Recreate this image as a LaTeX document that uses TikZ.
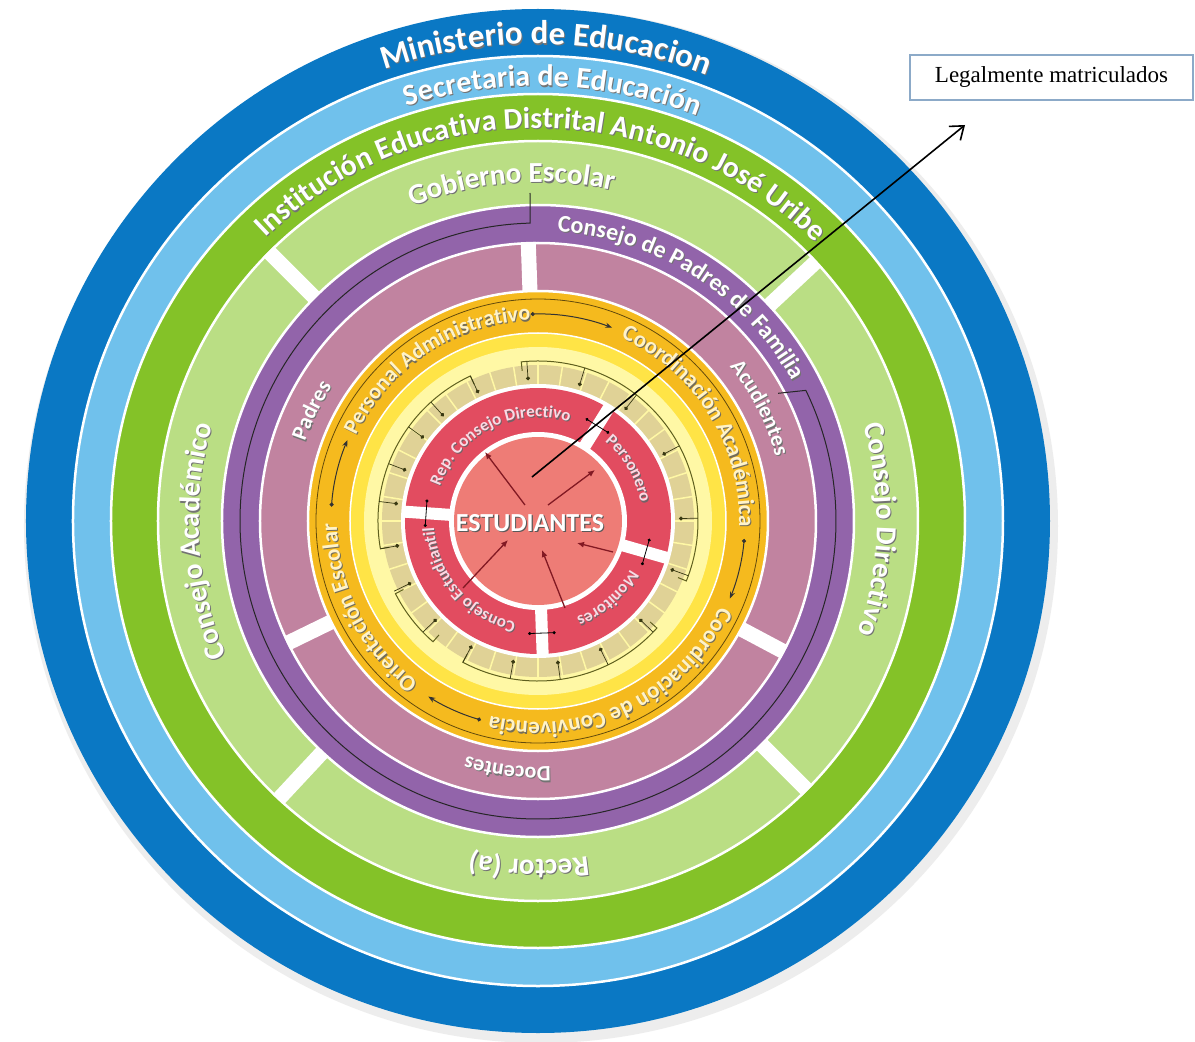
\documentclass[tikz,border=0pt]{standalone}
\usepackage{fontspec}
\setmainfont{Liberation Serif}
\newfontfamily\ringfont{Carlito}
\usetikzlibrary{decorations.text,arrows.meta}

\definecolor{ministerio}{RGB}{10,120,196}
\definecolor{secretaria}{RGB}{112,193,236}
\definecolor{institucion}{RGB}{132,194,40}
\definecolor{gobierno}{RGB}{186,222,132}
\definecolor{padresfam}{RGB}{146,100,170}
\definecolor{familia}{RGB}{193,131,160}
\definecolor{personal}{RGB}{245,186,30}
\definecolor{amarillo}{RGB}{255,228,70}
\definecolor{crema}{RGB}{255,248,165}
\definecolor{celda}{RGB}{224,210,150}
\definecolor{rojo}{RGB}{226,76,96}
\definecolor{salmon}{RGB}{238,124,118}
\definecolor{vino}{RGB}{130,25,35}
\definecolor{oliva}{RGB}{95,95,30}
\definecolor{rosado}{RGB}{250,218,228}
\definecolor{marfil}{RGB}{255,243,200}
\definecolor{borde}{RGB}{140,170,200}

\begin{document}
\begin{tikzpicture}[x=1pt,y=1pt,
	sep/.style={draw=white,line width=2.5pt},
	cut/.style={white,line width=15pt},
	bracket/.style={draw=oliva,line width=1pt},
	feed/.style={oliva!60!black,line width=0.7pt,-{Circle[length=4pt]}},
	flow/.style={black!80,line width=1pt,{Circle[length=4pt]}-{Stealth[length=7pt]}},
	link/.style={vino,line width=1.3pt,-{Latex[length=7pt,width=6pt]}}]

	\useasboundingbox (-538,-521) rectangle (657,521);
	\fill[white] (-538,-521) rectangle (657,521);

	\newcommand\ringText[5]{%
		\path[decorate,decoration={text along path,text align=center,text color=#4!45!black,
			text={|\ringfont\bfseries\fontsize{#3}{#3}\selectfont|#5}}]
			([shift={(1,-1.2)}]#2+85:#1) arc[start angle=#2+85,end angle=#2-85,radius=#1];
		\path[decorate,decoration={text along path,text align=center,text color=#4,
			text={|\ringfont\bfseries\fontsize{#3}{#3}\selectfont|#5}}]
			(#2+85:#1) arc[start angle=#2+85,end angle=#2-85,radius=#1];}

	% rings, outside in
	\fill[black!7] (3,-5) circle (517);
	\fill[ministerio] (0,0) circle (512);
	\filldraw[fill=secretaria,sep] (0,0) circle (465);
	\filldraw[fill=institucion,sep] (0,0) circle (427);
	\filldraw[fill=gobierno,sep] (0,0) circle (380);
	\foreach \a in {135,43,-45,-133}
		\draw[cut] (\a:315) -- (\a:381);
	\filldraw[fill=padresfam,sep] (0,0) circle (316);
	\filldraw[fill=familia,sep] (0,0) circle (278);
	\foreach \a in {92,-28,206}
		\draw[cut] (\a:229) -- (\a:279);
	\filldraw[fill=personal,sep] (0,0) circle (230);
	\draw[black!60!personal,line width=0.8pt] (0,0) circle (222);
	\filldraw[fill=amarillo,draw=white,line width=1.5pt] (0,0) circle (188);
	\fill[crema] (0,0) circle (174);
	\fill[celda] (0,0) circle (156);
	\foreach \a in {0,9,...,351}
		\draw[crema,line width=1.5pt] (\a:136) -- (\a:157);
	\fill[white] (0,0) circle (137);
	\fill[rojo] (0,0) circle (133);
	\foreach \a in {58,-16,-88,176}
		\draw[white,line width=12pt] (\a:88) -- (\a:134);
	\fill[white] (0,0) circle (89);
	\fill[salmon] (0,0) circle (84);

	\foreach \s/\e in {190/115,96/-22,-42/-118,229/207}
		\draw[bracket] (\s:151) -- (\s:160) arc[start angle=\s,end angle=\e,radius=160] -- (\e:151);
	\foreach \a in {94,73,52,28,1,-20,-44,-64,-82,-100,-118,-136,-154,-170,173,159,144,132,115}
		\draw[feed] (\a:160) -- (\a:141);

	\draw[black!85,line width=1pt] (-8,328) -- (91.5:298) arc[start angle=91.5,end angle=386,radius=298] -- (28:272);

	\foreach \s/\e in {92/69,-5/-22,254/238,176/157}
		\draw[flow] (\s:207) arc[start angle=\s,end angle=\e,radius=207];
	\foreach \a in {58,-16,-88,176}
		\draw[black,line width=0.8pt,{Circle[length=3pt]}-{Circle[length=3pt]}] (\a+7:113) -- (\a-7:113);

	\ringText{477}{89}{33}{white}{Ministerio de Educacion}
	\ringText{435}{88}{30}{white}{Secretaria de Educación}
	\ringText{393}{89.5}{30}{white}{Institución Educativa Distrital Antonio José Uribe}
	\ringText{339}{94.5}{29}{white}{Gobierno Escolar}
	\ringText{339}{-1.5}{29}{white}{Consejo Directivo}
	\ringText{339}{-91.5}{29}{white}{Rector (a)}
	\ringText{339}{183.5}{29}{white}{Consejo Académico}
	\ringText{290}{57.5}{24}{white}{Consejo de Padres de Familia}
	\ringText{246}{154}{22}{white}{Padres}
	\ringText{246}{27}{22}{white}{Acudientes}
	\ringText{246}{-97}{22}{white}{Docentes}
	\ringText{201}{123.5}{22}{marfil}{Personal Administrativo}
	\ringText{201}{32}{23}{marfil}{Coordinación Académica}
	\ringText{201}{-64.5}{23}{marfil}{Coordinación de Convivencia}
	\ringText{201}{207}{23}{marfil}{Orientación Escolar}
	\ringText{104}{116.5}{17}{rosado}{Rep. Consejo Directivo}
	\ringText{104}{30}{17}{rosado}{Personero}
	\ringText{104}{-48}{17}{rosado}{Monitores}
	\ringText{104}{220.5}{17}{rosado}{Consejo Estudiantil}

	\node[text=black!65,font=\ringfont\bfseries\fontsize{26}{26}\selectfont] (estudsombra) at (-6.8,-3.4) {ESTUDIANTES};
	\node[text=white,font=\ringfont\bfseries\fontsize{26}{26}\selectfont] (estud) at (-8,-2) {ESTUDIANTES};

	\coordinate (e1) at (-13,16);   \coordinate (rep) at (-53,69);
	\coordinate (e2) at (10,16);    \coordinate (per) at (57,51);
	\coordinate (mon1) at (75,-31); \coordinate (e3) at (39,-22);
	\coordinate (mon2) at (27,-87); \coordinate (e4) at (4,-29);
	\coordinate (cest) at (-75,-67);\coordinate (e5) at (-30,-19);
	\draw[link] (e1) -- (rep);
	\draw[link] (e2) -- (per);
	\draw[link] (mon1) -- (e3);
	\draw[link] (mon2) -- (e4);
	\draw[link] (cest) -- (e5);

	\node[draw=borde,fill=white,line width=1.2pt,minimum width=283pt,minimum height=45pt,inner sep=0pt,
		font=\fontsize{23}{23}\selectfont] (legal) at (513.5,443.5) {Legalmente matriculados};
	\coordinate (origen) at (-6,44);
	\coordinate (punta) at (427,396);
	\draw[line width=1.6pt,-{Straight Barb[length=12pt,width=18pt]}] (origen) -- (punta);
\end{tikzpicture}
\end{document}
